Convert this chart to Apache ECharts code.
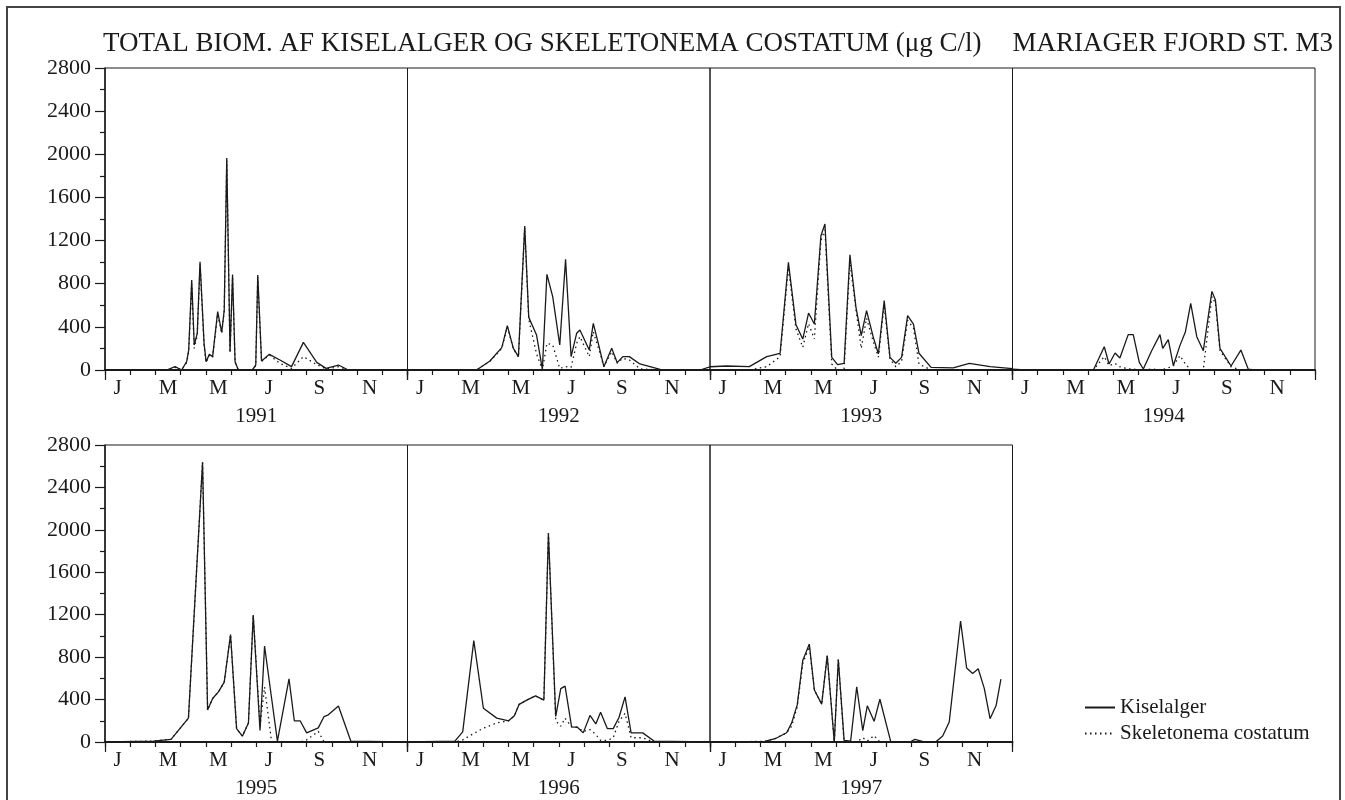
<!DOCTYPE html>
<html>
<head>
<meta charset="utf-8">
<title>Kiselalger - Mariager Fjord</title>
<script src="https://cdn.jsdelivr.net/npm/echarts@6/dist/echarts.min.js"></script>
<style>
    html, body { margin: 0; padding: 0; background: #fff; }
    #chart { width: 1345px; height: 800px; }
</style>
</head>
<body>
<div id="chart"></div>
<script>
    // month labels (J F M A M J J A S O N D), only every 2nd is shown
    var monthLetters = ['J', 'F', 'M', 'A', 'M', 'J', 'J', 'A', 'S', 'O', 'N', 'D'];
    var years = ['1991', '1992', '1993', '1994', '1995', '1996', '1997'];
    var yTicks = [0, 400, 800, 1200, 1600, 2000, 2400, 2800];

    // time in months since 1 Jan, biomass in µg C/l
    var t1991 = [0, 2.45, 2.78, 3.04, 3.24, 3.32, 3.44, 3.54, 3.66, 3.77, 3.93, 4.01, 4.14, 4.27, 4.47, 4.63, 4.73, 4.83, 4.96, 5.06, 5.16, 5.29, 5.84, 5.98, 6.06, 6.21, 6.52, 6.94, 7.40, 7.87, 8.40, 8.77, 9.26, 9.65, 12];
    var kis1991 = [0, 0, 31, 0, 77, 185, 834, 232, 340, 1004, 247, 77, 145, 124, 541, 349, 556, 1965, 170, 885, 77, 0, 0, 46, 880, 83, 145, 93, 31, 256, 71, 15, 46, 0, 0];
    var ske1991 = [0, 0, 25, 0, 70, 170, 800, 200, 320, 980, 230, 70, 140, 120, 520, 340, 540, 1940, 160, 860, 70, 0, 0, 40, 860, 80, 140, 60, 15, 124, 50, 10, 30, 0, 0];

    var t1992 = [0, 2.74, 3.27, 3.74, 3.96, 4.20, 4.40, 4.65, 4.81, 5.12, 5.35, 5.53, 5.76, 6.04, 6.27, 6.49, 6.71, 6.84, 7.21, 7.37, 7.60, 7.79, 8.10, 8.32, 8.54, 8.80, 9.22, 10.02, 11.6, 12];
    var kis1992 = [0, 0, 83, 207, 411, 201, 124, 1335, 488, 324, 6, 887, 680, 232, 1026, 124, 340, 371, 185, 433, 216, 31, 201, 68, 124, 124, 56, 6, 0, 30];
    var ske1992 = [0, 0, 80, 200, 400, 195, 120, 1320, 470, 150, 0, 247, 232, 15, 31, 25, 247, 309, 124, 355, 185, 31, 170, 62, 108, 93, 10, 0, 0, 0];

    var t1993 = [0, 0.66, 1.56, 2.25, 2.78, 3.11, 3.41, 3.68, 3.91, 4.14, 4.40, 4.56, 4.83, 5.06, 5.32, 5.55, 5.79, 6.00, 6.21, 6.48, 6.68, 6.91, 7.14, 7.37, 7.60, 7.84, 8.07, 8.29, 8.77, 9.65, 10.29, 11.11, 12];
    var kis1993 = [30, 37, 31, 124, 155, 998, 420, 287, 528, 426, 1245, 1353, 117, 49, 62, 1069, 581, 318, 550, 303, 148, 643, 117, 62, 117, 504, 426, 155, 25, 19, 62, 31, 12];
    var ske1993 = [0, 0, 0, 31, 124, 950, 380, 210, 430, 287, 1200, 1300, 55, 0, 10, 1000, 560, 200, 480, 260, 120, 600, 100, 30, 80, 460, 390, 55, 0, 0, 0, 0, 0];

    var t1994 = [0, 0.5, 3.21, 3.64, 3.83, 4.07, 4.26, 4.59, 4.79, 5.03, 5.19, 5.52, 5.85, 5.96, 6.18, 6.38, 6.64, 6.86, 7.07, 7.31, 7.57, 7.91, 8.05, 8.23, 8.67, 9.06, 9.35, 9.6, 12];
    var kis1994 = [8, 0, 0, 216, 56, 158, 111, 328, 328, 71, 9, 179, 328, 201, 281, 40, 226, 355, 618, 309, 179, 729, 649, 201, 37, 185, 9, 0, 0];
    var ske1994 = [0, 0, 0, 124, 40, 60, 30, 10, 10, 0, 0, 10, 0, 5, 20, 40, 133, 56, 0, 0, 5, 680, 620, 180, 30, 0, 0, 0, 0];

    var t1995 = [0, 1.92, 2.62, 3.31, 3.87, 4.07, 4.27, 4.50, 4.73, 4.98, 5.22, 5.45, 5.69, 5.88, 6.15, 6.33, 6.61, 6.84, 7.30, 7.51, 7.74, 8.00, 8.46, 8.69, 8.86, 9.26, 9.75, 12];
    var kis1995 = [0, 9, 25, 225, 2637, 302, 410, 472, 564, 1012, 126, 55, 179, 1197, 108, 904, 410, 9, 595, 200, 200, 86, 133, 240, 256, 339, 9, 0];
    var ske1995 = [0, 9, 25, 225, 2637, 302, 410, 472, 564, 1012, 126, 55, 179, 1197, 150, 518, 0, 0, 0, 0, 0, 20, 100, 0, 0, 0, 0, 0];

    var t1996 = [0, 1.88, 2.19, 2.63, 3.01, 3.54, 4.01, 4.24, 4.43, 4.73, 5.08, 5.41, 5.59, 5.88, 6.08, 6.25, 6.51, 6.74, 6.97, 7.24, 7.47, 7.66, 7.93, 8.16, 8.39, 8.63, 8.87, 9.33, 9.78, 12];
    var kis1996 = [0, 9, 96, 956, 318, 225, 200, 247, 355, 395, 435, 395, 1968, 241, 503, 527, 142, 139, 86, 250, 170, 281, 126, 126, 231, 426, 86, 86, 9, 0];
    var ske1996 = [0, 0, 20, 80, 130, 180, 200, 247, 355, 395, 435, 395, 1968, 200, 148, 225, 142, 139, 100, 117, 71, 15, 15, 40, 194, 271, 40, 40, 0, 0];

    var t1997 = [0, 2.18, 2.58, 3.04, 3.24, 3.46, 3.68, 3.94, 4.14, 4.43, 4.65, 4.93, 5.09, 5.32, 5.58, 5.82, 6.06, 6.24, 6.51, 6.74, 7.17, 7.93, 8.13, 8.46, 8.96, 9.23, 9.49, 9.94, 10.18, 10.42, 10.64, 10.88, 11.11, 11.35, 11.54];
    var kis1997 = [0, 6, 31, 87, 180, 350, 769, 924, 490, 357, 815, 0, 778, 15, 9, 521, 108, 341, 195, 403, 3, 0, 25, 3, 3, 56, 189, 1141, 698, 645, 691, 505, 220, 344, 592];
    var ske1997 = [0, 6, 31, 87, 150, 330, 740, 900, 490, 357, 815, 0, 778, 0, 0, 0, 40, 10, 60, 0, 0, 0, 0, 0, 0, 0, 0, 0, 0, 0, 0, 0, 0, 0, 0];

    var times = [t1991, t1992, t1993, t1994, t1995, t1996, t1997];
    var kisList = [kis1991, kis1992, kis1993, kis1994, kis1995, kis1996, kis1997];
    var skeList = [ske1991, ske1992, ske1993, ske1994, ske1995, ske1996, ske1997];

    var font = 'Liberation Serif, Times New Roman, serif';
    var ink = '#1a1a1a';

    function pairs(t, v) {
        return t.map(function (x, i) { return [x, v[i]]; });
    }

    var myChart = echarts.init(document.getElementById('chart'), null, {renderer: 'canvas'});

    var grids = [], xAxes = [], yAxes = [], series = [];
    var panelW = 302.5;

    years.forEach(function (year, i) {
        var row = i < 4 ? 0 : 1;
        var col = row === 0 ? i : i - 4;
        grids.push({
            left: 105 + col * panelW,
            top: row === 0 ? 68 : 445,
            width: panelW,
            height: 302,
            show: true,
            borderColor: ink,
            borderWidth: 1
        });
        // category axis: month ticks + labels + year name
        xAxes.push({
            gridIndex: i,
            type: 'category',
            data: monthLetters,
            boundaryGap: true,
            name: year,
            nameLocation: 'middle',
            nameGap: 36,
            nameTextStyle: {fontFamily: font, fontSize: 21, color: ink},
            axisLine: {lineStyle: {color: ink, width: 2}},
            axisTick: {show: true, length: 5, interval: 0, lineStyle: {color: ink, width: 1.2}},
            axisLabel: {interval: 1, margin: 8, fontFamily: font, fontSize: 21, color: ink},
            splitLine: {show: false}
        });
        // value axis: carries the data, long ticks at year boundaries
        xAxes.push({
            gridIndex: i,
            type: 'value',
            min: 0,
            max: 12,
            interval: 12,
            position: 'bottom',
            axisLine: {show: false},
            axisTick: {show: true, length: 10, lineStyle: {color: ink, width: 1.2}},
            axisLabel: {show: false},
            splitLine: {show: false}
        });
        yAxes.push({
            gridIndex: i,
            type: 'value',
            min: 0,
            max: 2800,
            interval: 400,
            show: col === 0,
            axisLine: {show: true, lineStyle: {color: ink, width: 1.5}},
            axisTick: {show: true, length: 10, lineStyle: {color: ink, width: 1.2}},
            minorTick: {show: true, splitNumber: 2, length: 5, lineStyle: {color: ink, width: 1.2}},
            axisLabel: {
                margin: 14, fontFamily: font, fontSize: 22, color: ink,
                formatter: function (v) { return yTicks.indexOf(v) >= 0 ? String(v) : ''; }
            },
            splitLine: {show: false}
        });
        series.push({
            name: 'Skeletonema costatum',
            type: 'line',
            xAxisIndex: 2 * i + 1,
            yAxisIndex: i,
            data: pairs(times[i], skeList[i]),
            symbol: 'none',
            itemStyle: {color: ink},
            lineStyle: {color: ink, width: 1.3, type: [1.5, 3.5]},
            z: 3
        });
        series.push({
            name: 'Kiselalger',
            type: 'line',
            xAxisIndex: 2 * i + 1,
            yAxisIndex: i,
            data: pairs(times[i], kisList[i]),
            symbol: 'none',
            itemStyle: {color: ink},
            lineStyle: {color: ink, width: 1.3},
            z: 4
        });
    });

    var option = {
        animation: false,
        backgroundColor: '#fff',
        title: [
            {
                text: 'TOTAL BIOM. AF KISELALGER OG SKELETONEMA COSTATUM (μg C/l)',
                left: 103, top: 30, padding: 0,
                textStyle: {fontFamily: font, fontSize: 27, fontWeight: 'normal', color: ink}
            },
            {
                text: 'MARIAGER FJORD ST. M3',
                right: 12, top: 30, padding: 0,
                textStyle: {fontFamily: font, fontSize: 27, fontWeight: 'normal', color: ink}
            }
        ],
        legend: {
            data: ['Kiselalger', 'Skeletonema costatum'],
            orient: 'vertical',
            left: 1084,
            top: 697,
            padding: 0,
            itemWidth: 30,
            itemHeight: 10,
            itemGap: 5,
            itemStyle: {opacity: 0},
            textStyle: {fontFamily: font, fontSize: 21, color: ink}
        },
        graphic: [{
            type: 'rect',
            shape: {x: 7, y: 7, width: 1333, height: 820},
            style: {fill: 'none', stroke: '#444', lineWidth: 2},
            silent: true
        }],
        grid: grids,
        xAxis: xAxes,
        yAxis: yAxes,
        series: series
    };

    option && myChart.setOption(option);
</script>
</body>
</html>
